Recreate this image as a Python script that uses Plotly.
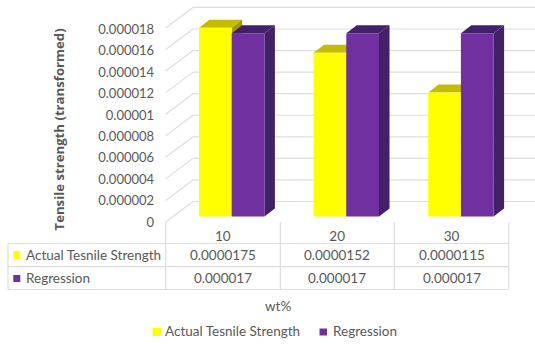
import plotly.graph_objects as go

W, H = 535, 344

# Chart data
categories = ["10", "20", "30"]
actual_name = "Actual Tesnile Strength"
regression_name = "Regression"
actual_values = [0.0000175, 0.0000152, 0.0000115]
regression_values = [0.000017, 0.000017, 0.000017]
tick_values = [0, 0.000002, 0.000004, 0.000006, 0.000008, 0.00001,
               0.000012, 0.000014, 0.000016, 0.000018]
tick_labels = ["0", "0.000002", "0.000004", "0.000006", "0.000008", "0.00001",
               "0.000012", "0.000014", "0.000016", "0.000018"]

YELLOW, YELLOW_TOP, YELLOW_SIDE = "#FFFF00", "#C4BC00", "#A09A00"
PURPLE, PURPLE_DARK = "#7030A0", "#43206A"
GRID, TEXT = "#DDDDDD", "#595959"
FONT = "Lato"
TEXT_SIZE = 13.5

# Main axes: one group per unit, spanning the whole page
GROUP_PX = 114.6
GROUP0_PX = 231.7
BASE_PX = 216.5
PX_PER_VALUE = 10.78e6
BAR_W = 32.7 / GROUP_PX
DEPTH_X = 10.5 / GROUP_PX
DEPTH_Y = 8.0 / PX_PER_VALUE


def xr(px):
    return (px - GROUP0_PX) / GROUP_PX


def px_x(px):
    return px / W


def px_y(py):
    return 1 - py / H


def poly(points, color):
    path = "M " + " L ".join(f"{a},{b}" for a, b in points) + " Z"
    return dict(type="path", path=path, xref="x", yref="y", layer="below",
                fillcolor=color, line=dict(width=0))


def line(x0, y0, x1, y1, ref="paper", color=GRID, width=1.2, layer="below"):
    return dict(type="line", x0=x0, y0=y0, x1=x1, y1=y1, xref="x" if ref == "data" else "paper",
                yref="y" if ref == "data" else "paper", layer=layer,
                line=dict(color=color, width=width))


shapes = []

# Side wall and back wall gridlines, one set per value tick
FRONT_SHIFT = -5.5 / PX_PER_VALUE
BACK_SHIFT = 15.0 / PX_PER_VALUE
for v in tick_values:
    shapes.append(line(xr(165.7), v + FRONT_SHIFT, xr(193), v + BACK_SHIFT, ref="data"))
    shapes.append(line(xr(193), v + BACK_SHIFT, xr(W), v + BACK_SHIFT, ref="data"))

# Top and side faces of the bars, back to front
for i in range(len(categories)):
    a, r = actual_values[i], regression_values[i]
    shapes.append(poly([(i - BAR_W, a), (i - BAR_W + DEPTH_X, a + DEPTH_Y),
                        (i + DEPTH_X, a + DEPTH_Y), (i, a)], YELLOW_TOP))
    shapes.append(poly([(i, 0), (i + DEPTH_X, DEPTH_Y),
                        (i + DEPTH_X, a + DEPTH_Y), (i, a)], YELLOW_SIDE))
    shapes.append(poly([(i, r), (i + DEPTH_X, r + DEPTH_Y),
                        (i + BAR_W + DEPTH_X, r + DEPTH_Y), (i + BAR_W, r)], PURPLE_DARK))
    shapes.append(poly([(i + BAR_W, 0), (i + BAR_W + DEPTH_X, DEPTH_Y),
                        (i + BAR_W + DEPTH_X, r + DEPTH_Y), (i + BAR_W, r)], PURPLE_DARK))

# Data table grid
TABLE_X = [8, 165.7, 280.3, 394.3, 508.7]
TABLE_Y = [243.5, 266.7, 289.5]
for py in TABLE_Y:
    shapes.append(line(px_x(TABLE_X[0]), px_y(py), px_x(TABLE_X[-1]), px_y(py)))
for k, px in enumerate(TABLE_X):
    top = TABLE_Y[0] if k == 0 else 222
    shapes.append(line(px_x(px), px_y(top), px_x(px), px_y(TABLE_Y[-1])))


def key(x0, x1, y0, y1, color):
    return dict(type="rect", xref="paper", yref="paper", layer="above",
                x0=px_x(x0), x1=px_x(x1), y0=px_y(y0), y1=px_y(y1),
                fillcolor=color, line=dict(width=0))


# Legend keys inside the table and under the chart
shapes += [key(13.3, 20.3, 251, 259, YELLOW), key(13.3, 20.3, 275, 282, PURPLE),
           key(152.5, 161, 328, 336, YELLOW), key(319.5, 327, 328.5, 335.5, PURPLE)]


def cell(text, px, py, anchor="center"):
    return dict(text=text, x=px_x(px), y=px_y(py), xref="paper", yref="paper",
                showarrow=False, xanchor=anchor, yanchor="middle",
                font=dict(family=FONT, size=TEXT_SIZE, color=TEXT))


def fmt(v):
    return f"{v:.7f}".rstrip("0")


annotations = [cell(actual_name, 23.5, 254.5, "left"), cell(regression_name, 23.5, 277.5, "left"),
               cell(actual_name, 162.5, 331, "left"), cell(regression_name, 330.5, 331, "left"),
               cell("wt%", 278, 306)]
for i in range(len(categories)):
    center = (TABLE_X[i + 1] + TABLE_X[i + 2]) / 2
    annotations.append(cell(fmt(actual_values[i]), center, 254.5))
    annotations.append(cell(fmt(regression_values[i]), center, 277.5))
annotations.append(dict(text="<b>Tensile strength (transformed)</b>", x=px_x(58.5), y=px_y(130),
                        xref="paper", yref="paper", showarrow=False, textangle=-90,
                        xanchor="center", yanchor="middle",
                        font=dict(family="Open Sans", size=13.2, color=TEXT)))

fig = go.Figure()
positions = list(range(len(categories)))
fig.add_bar(name=actual_name, x=positions, y=actual_values, width=BAR_W, offset=-BAR_W,
            marker=dict(color=YELLOW, line=dict(width=0)))
fig.add_bar(name=regression_name, x=positions, y=regression_values, width=BAR_W, offset=0,
            marker=dict(color=PURPLE, line=dict(width=0)))
# Invisible trace that carries the labelled front axes
fig.add_scatter(x=[0], y=[0], xaxis="x2", yaxis="y2", mode="markers",
                marker=dict(opacity=0), showlegend=False, hoverinfo="skip")

fig.update_layout(
    width=W, height=H, margin=dict(l=0, r=0, t=0, b=0),
    paper_bgcolor="white", plot_bgcolor="rgba(0,0,0,0)",
    barmode="overlay", shapes=shapes, annotations=annotations,
    font=dict(family=FONT, color=TEXT), showlegend=False,
    xaxis=dict(domain=[0, 1], range=[xr(0), xr(W)], visible=False),
    yaxis=dict(domain=[0, 1], range=[-(H - BASE_PX) / PX_PER_VALUE, BASE_PX / PX_PER_VALUE],
               visible=False),
    xaxis2=dict(domain=[165.7 / W, 508.7 / W], range=[-0.5, 2.5], anchor="y2", automargin=False,
                tickvals=positions, ticktext=categories, ticks="outside", ticklen=2,
                tickcolor="rgba(0,0,0,0)", showline=False, showgrid=False, zeroline=False,
                tickfont=dict(family=FONT, size=TEXT_SIZE, color=TEXT)),
    yaxis2=dict(domain=[px_y(222), px_y(29.3)], range=[0, 0.000018], anchor="x2", automargin=False,
                tickvals=tick_values, ticktext=tick_labels, ticks="outside", ticklen=8,
                tickcolor="rgba(0,0,0,0)", showline=False, showgrid=False, zeroline=False,
                tickfont=dict(family=FONT, size=13, color=TEXT)),
)

fig.write_html("out.html")
